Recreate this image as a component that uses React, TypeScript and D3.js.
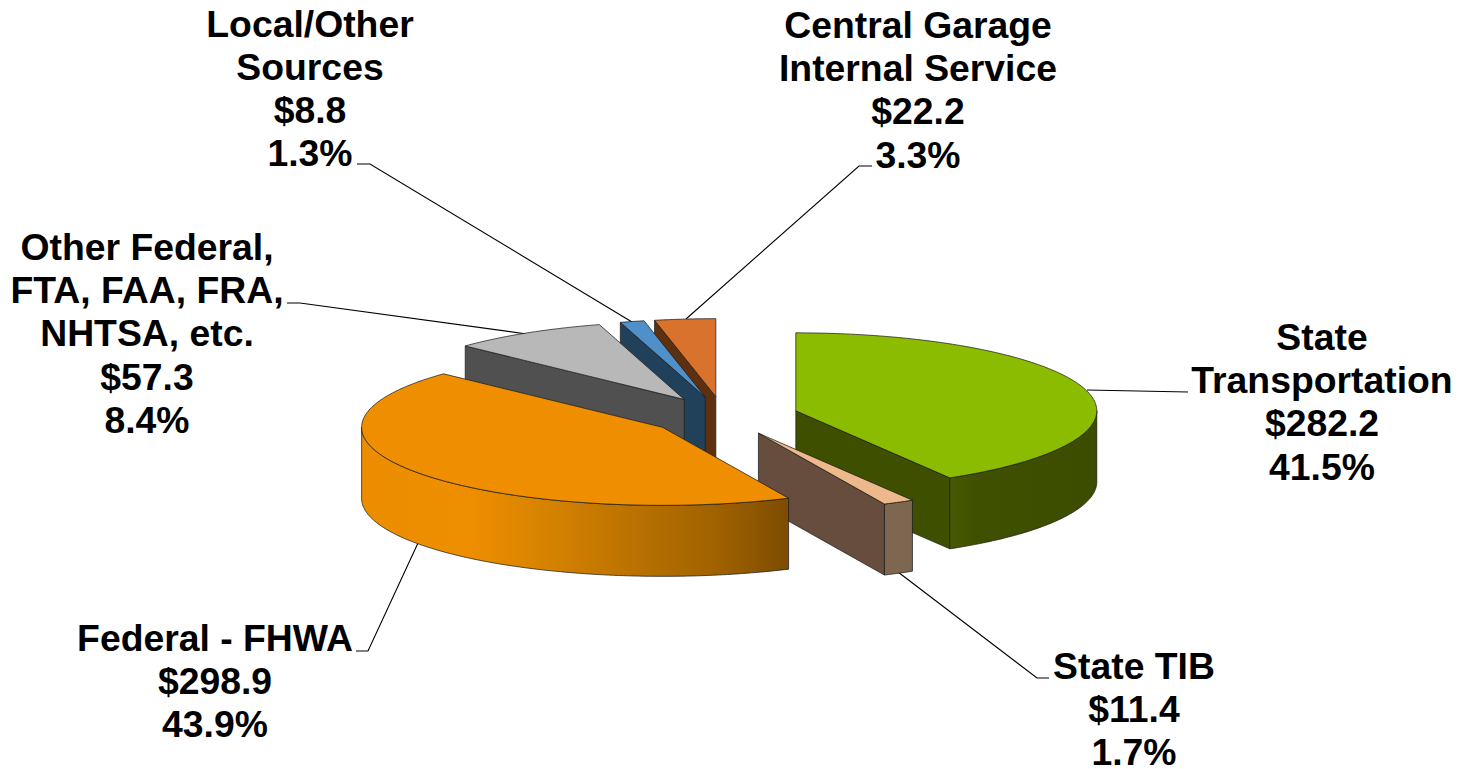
import React from "react";
import * as d3 from "d3";

// ---- data ----
const categoryLines: string[][] = [
  ["State", "Transportation"],
  ["State TIB"],
  ["Federal - FHWA"],
  ["Other Federal,", "FTA, FAA, FRA,", "NHTSA, etc."],
  ["Local/Other", "Sources"],
  ["Central Garage", "Internal Service"],
];
const amounts = [282.2, 11.4, 298.9, 57.3, 8.8, 22.2];
const percents = [41.5, 1.7, 43.9, 8.4, 1.3, 3.3];

// ---- styling and layout, kept apart from the data ----
const topColors = ["#8BBC00", "#EDB98A", "#EE8E00", "#B8B8B8", "#5090C8", "#D9722C"];
const wallColors = ["#3F4F00", "#664D3D", "#7D4C00", "#505050", "#21405A", "#5F3010"];
const outerColors = ["url(#wall-green)", "#7E6750", "url(#wall-orange)", "#505050", "#21405A", "#5F3010"];
const paintOrder = [5, 4, 3, 0, 1, 2];

const W = 1464;
const H = 769;
const CX = 723.5;
const CY = 416;
const RX = 301;
const RY = 78;
const DEPTH = 71;
const EXPLODE = 75;
const FONT = 37.33;
const LINE = 43.2;
const EDGE = "rgba(25,25,25,0.72)";

// label centre x, first baseline y, leader polyline
const labelX = [1322, 1134, 215, 147, 310, 918];
const labelY = [350, 679, 651, 260, 36.5, 38];
const leaders: [number, number][][] = [
  [[1087, 390], [1188, 392]],
  [[898, 572], [1037, 678], [1049, 678]],
  [[418, 543], [368, 651], [356, 651]],
  [[527, 334], [300, 303], [287, 303]],
  [[632, 322], [370, 164], [357, 164]],
  [[686, 319], [859, 166], [872, 166]],
];

const pieGen = d3.pie<number>().sort(null).value((d) => d);
const arcs = pieGen(amounts);
const lineGen = d3.line<[number, number]>();

function rimPoint(ox: number, oy: number, a: number, dy = 0): [number, number] {
  return [ox + RX * Math.sin(a), oy - RY * Math.cos(a) + dy];
}

function rimPoints(ox: number, oy: number, a0: number, a1: number, dy = 0): [number, number][] {
  const n = Math.max(2, Math.ceil(Math.abs(a1 - a0) * 60));
  const t = d3.scaleLinear().domain([0, n]).range([a0, a1]);
  return d3.range(n + 1).map((i) => rimPoint(ox, oy, t(i), dy));
}

function closed(points: [number, number][]): string {
  return (lineGen(points) || "") + "Z";
}

function Slice({ index }: { index: number }) {
  const { startAngle: a0, endAngle: a1 } = arcs[index];
  const mid = (a0 + a1) / 2;
  const ox = CX + EXPLODE * Math.sin(mid);
  const oy = CY - EXPLODE * (RY / RX) * Math.cos(mid);
  const apex: [number, number] = [ox, oy];
  const down = (p: [number, number]): [number, number] => [p[0], p[1] + DEPTH];
  const radialWall = (a: number) => {
    const p = rimPoint(ox, oy, a);
    return closed([apex, p, down(p), down(apex)]);
  };
  const o0 = Math.max(a0, Math.PI / 2);
  const o1 = Math.min(a1, (3 * Math.PI) / 2);
  return (
    <g stroke={EDGE} strokeWidth={1} strokeLinejoin="round">
      {Math.sin(a0) < -1e-6 && <path d={radialWall(a0)} fill={wallColors[index]} />}
      {Math.sin(a1) > 1e-6 && <path d={radialWall(a1)} fill={wallColors[index]} />}
      {o1 > o0 && (
        <path
          d={closed([...rimPoints(ox, oy, o0, o1), ...rimPoints(ox, oy, o1, o0, DEPTH)])}
          fill={outerColors[index]}
        />
      )}
      <path d={closed([apex, ...rimPoints(ox, oy, a0, a1)])} fill={topColors[index]} />
    </g>
  );
}

export default function App() {
  return (
    <svg
      width={W}
      height={H}
      viewBox={`0 0 ${W} ${H}`}
      style={{ position: "absolute", left: 0, top: 0, display: "block", background: "#fff" }}
    >
      <defs>
        <linearGradient id="wall-orange" gradientUnits="userSpaceOnUse" x1={362} x2={789} y1={0} y2={0}>
          <stop offset={0} stopColor="#EC8D00" />
          <stop offset={0.25} stopColor="#EE8E00" />
          <stop offset={0.44} stopColor="#D58200" />
          <stop offset={0.83} stopColor="#A06200" />
          <stop offset={1} stopColor="#7D4C00" />
        </linearGradient>
        <linearGradient id="wall-green" gradientUnits="userSpaceOnUse" x1={950} x2={1096} y1={0} y2={0}>
          <stop offset={0} stopColor="#465A00" />
          <stop offset={0.2} stopColor="#3F5000" />
          <stop offset={1} stopColor="#3D4D00" />
        </linearGradient>
      </defs>

      {leaders.map((pts, i) => (
        <path key={i} d={lineGen(pts) || ""} fill="none" stroke="#000" strokeWidth={1.1} />
      ))}

      {paintOrder.map((i) => (
        <Slice key={i} index={i} />
      ))}

      {categoryLines.map((lines, i) => {
        const all = [...lines, `$${d3.format(".1f")(amounts[i])}`, `${d3.format(".1f")(percents[i])}%`];
        return (
          <text
            key={i}
            textAnchor="middle"
            fontFamily="'Liberation Sans', Arial, sans-serif"
            fontWeight={700}
            fontSize={FONT}
            fill="#000"
          >
            {all.map((t, j) => (
              <tspan key={j} x={labelX[i]} y={labelY[i] + j * LINE}>
                {t}
              </tspan>
            ))}
          </text>
        );
      })}
    </svg>
  );
}
